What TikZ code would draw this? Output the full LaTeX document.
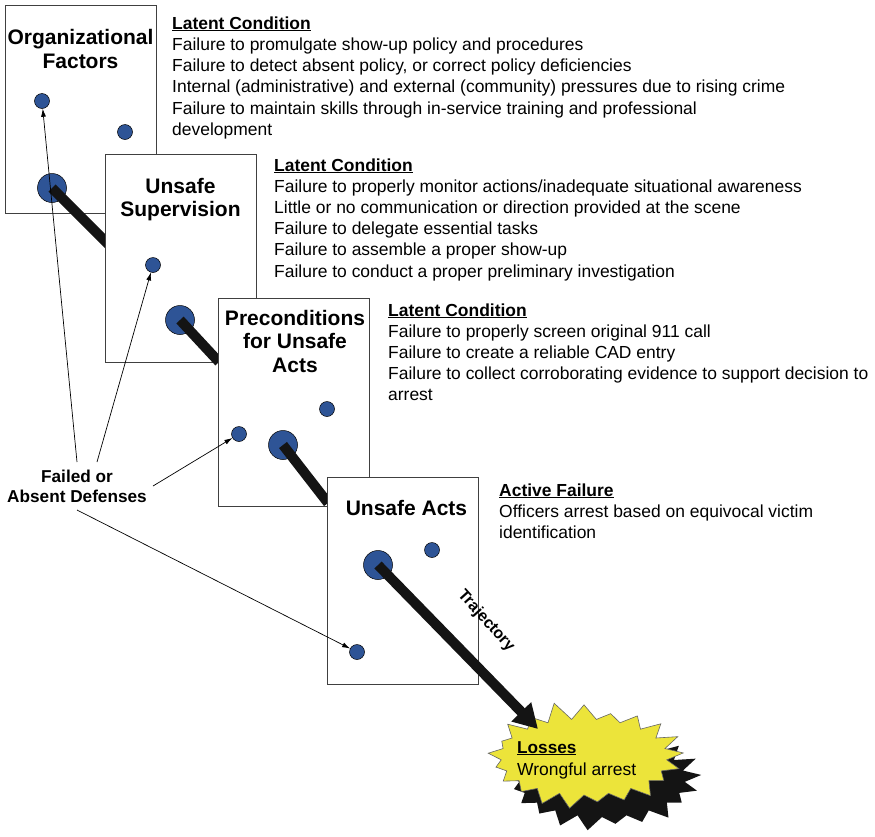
\documentclass[tikz,border=0pt]{standalone}
\usepackage{fontspec}
\setmainfont{Liberation Sans}
\usetikzlibrary{arrows.meta,shapes.symbols}
\definecolor{dotblue}{RGB}{46,84,150}
\definecolor{staryellow}{RGB}{236,228,58}
\begin{document}
\begin{tikzpicture}[x=1pt,y=-1pt,
  box/.style={draw=black!75,fill=white,line width=0.9pt,inner sep=0pt,minimum width=151pt,minimum height=208pt,anchor=north west},
  dot/.style={circle,draw=black,fill=dotblue,line width=0.5pt,inner sep=0pt,minimum size=15pt},
  bigdot/.style={dot,minimum size=29pt},
  bar/.style={line width=10pt,black!92},
  txt/.style={anchor=base west,inner sep=0pt,font=\fontsize{17.45}{21}\selectfont},
  ttl/.style={anchor=base,inner sep=0pt,font=\bfseries\fontsize{21}{24}\selectfont},
  lbl/.style={anchor=base,inner sep=0pt,font=\bfseries\fontsize{17.2}{20}\selectfont},
  thinarrow/.style={line width=0.7pt,-{Latex[length=8pt,width=5pt]}},
  burst/.style={starburst,starburst points=21,starburst point height=19pt,random starburst=11,minimum width=204pt,minimum height=114pt,inner sep=0pt}
]
\useasboundingbox (0,0) rectangle (875,836);

% ---- Box 1
\node[box] (box1) at (5,5) {};
\node[ttl] (t1a) at (80.5,44) {Organizational};
\node[ttl] (t1b) at (80.5,68) {Factors};
\node[dot] (d1a) at (42,101) {};
\node[dot] (d1b) at (125,132) {};
\node[bigdot] (d1c) at (52,188) {};
\coordinate (e1) at (109,245);
\draw[bar] (d1c.center) -- (e1);

% ---- Box 2
\node[box] (box2) at (105,154) {};
\node[ttl] (t2a) at (180.5,193) {Unsafe};
\node[ttl] (t2b) at (180.5,216) {Supervision};
\node[dot] (d2a) at (153,265) {};
\node[bigdot] (d2b) at (180,320) {};
\coordinate (e2) at (219,362);
\draw[bar] (d2b.center) -- (e2);

% ---- Box 3
\node[box] (box3) at (218,298) {};
\node[ttl] (t3a) at (295,325) {Preconditions};
\node[ttl] (t3b) at (295,348.5) {for Unsafe};
\node[ttl] (t3c) at (295,372) {Acts};
\node[dot] (d3a) at (239,434) {};
\node[dot] (d3b) at (327,409) {};
\node[bigdot] (d3c) at (283,445) {};
\coordinate (e3) at (328,503);
\draw[bar] (d3c.center) -- (e3);

% ---- Box 4
\node[box,minimum height=207pt] (box4) at (327,477) {};
\node[ttl] (t4a) at (406.5,515) {Unsafe Acts};
\node[bigdot] (d4a) at (378,565) {};
\node[dot] (d4b) at (432,550) {};
\node[dot] (d4c) at (357,652) {};

% ---- Losses starburst
\node[burst,fill=black!92] (shadow) at (602,779) {};
\node[burst,fill=staryellow,draw=black!60,line width=0.6pt] (losses) at (584,757) {};
\node[txt,font=\bfseries\fontsize{17.2}{20}\selectfont] (ls1) at (517,753) {\underline{Losses}};
\node[txt] (ls2) at (517,775) {Wrongful arrest};

% ---- Trajectory
\coordinate (tip) at (538,729);
\draw[line width=10pt,black!92,-{Triangle[length=24pt,width=26pt]}] (d4a.center) -- (tip);
\node[font=\bfseries\fontsize{16}{18}\selectfont,rotate=-48,inner sep=0pt] (traj) at (486,621) {Trajectory};

% ---- Text blocks
\node[txt] (a0) at (172,29) {\textbf{\underline{Latent Condition}}};
\node[txt] (a1) at (172,50.5) {Failure to promulgate show-up policy and procedures};
\node[txt] (a2) at (172,71.7) {Failure to detect absent policy, or correct policy deficiencies};
\node[txt] (a3) at (172,92.9) {Internal (administrative) and external (community) pressures due to rising crime};
\node[txt] (a4) at (172,114.1) {Failure to maintain skills through in-service training and professional};
\node[txt] (a5) at (172,135.3) {development};

\node[txt] (b0) at (274,171) {\textbf{\underline{Latent Condition}}};
\node[txt] (b1) at (274,192.2) {Failure to properly monitor actions/inadequate situational awareness};
\node[txt] (b2) at (274,213.4) {Little or no communication or direction provided at the scene};
\node[txt] (b3) at (274,234.6) {Failure to delegate essential tasks};
\node[txt] (b4) at (274,255.8) {Failure to assemble a proper show-up};
\node[txt] (b5) at (274,277) {Failure to conduct a proper preliminary investigation};

\node[txt] (c0) at (388,316) {\textbf{\underline{Latent Condition}}};
\node[txt] (c1) at (388,337.2) {Failure to properly screen original 911 call};
\node[txt] (c2) at (388,358.4) {Failure to create a reliable CAD entry};
\node[txt] (c3) at (388,379.6) {Failure to collect corroborating evidence to support decision to};
\node[txt] (c4) at (388,400.8) {arrest};

\node[txt] (f0) at (499,496) {\textbf{\underline{Active Failure}}};
\node[txt] (f1) at (499,517.2) {Officers arrest based on equivocal victim};
\node[txt] (f2) at (499,538.4) {identification};

% ---- Failed or Absent Defenses
\node[lbl] (fa) at (77,482) {Failed or};
\node[lbl] (fb) at (77,502) {Absent Defenses};
\coordinate (s1) at (77,462);
\coordinate (s2) at (97,462);
\coordinate (s3) at (153,486);
\coordinate (s4) at (77,510);
\draw[thinarrow] (s1) -- (d1a);
\draw[thinarrow] (s2) -- (d2a);
\draw[thinarrow] (s3) -- (d3a);
\draw[thinarrow] (s4) -- (d4c);
\end{tikzpicture}
\end{document}
